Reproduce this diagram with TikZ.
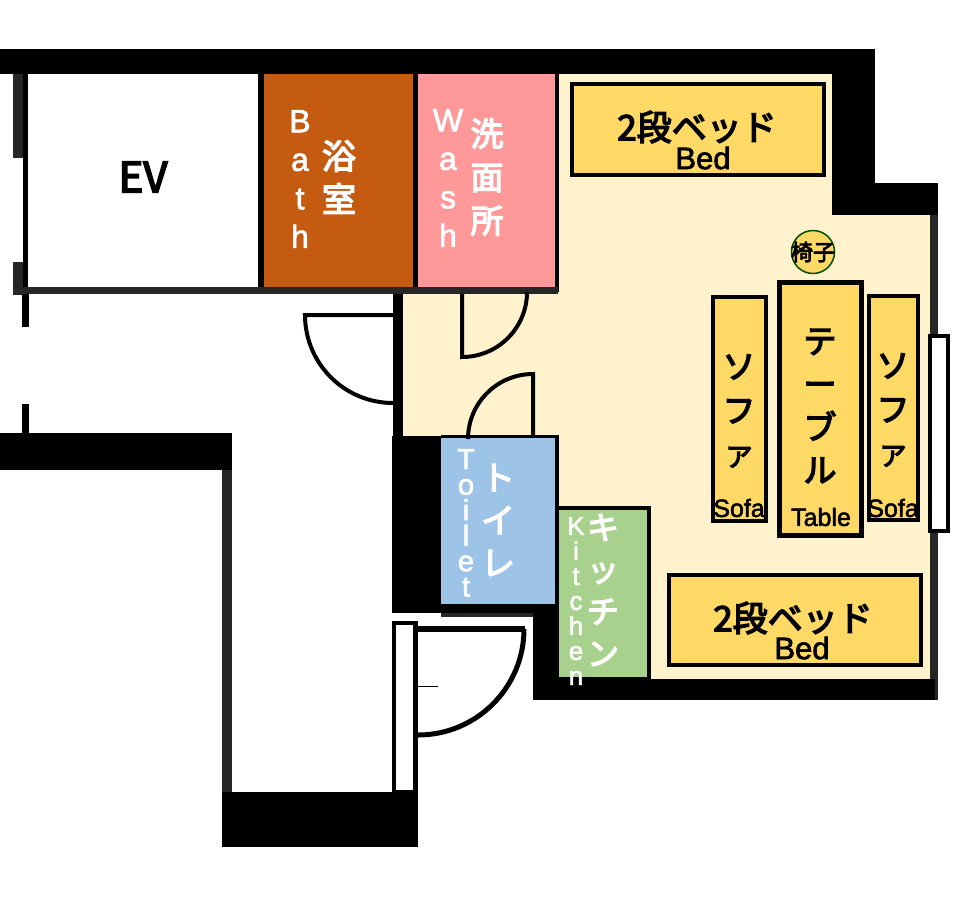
\documentclass[tikz,border=0pt]{standalone}
\usepackage{fontspec}
\setmainfont{Liberation Sans}
\newfontfamily\jp[FakeBold=4]{Noto Sans CJK JP}
\newfontfamily\lat[FakeBold=2]{Liberation Sans}
\definecolor{cream}{HTML}{FFF2CC}
\definecolor{bathc}{HTML}{C55A11}
\definecolor{washc}{HTML}{FF9999}
\definecolor{yel}{HTML}{FFD966}
\definecolor{toic}{HTML}{9DC3E6}
\definecolor{kitc}{HTML}{A9D18E}
\newcommand{\fsz}[2]{\lat\fontsize{#1}{#2}\selectfont}
\newcommand{\jpb}[2]{\jp\fontsize{#1}{#2}\selectfont}
\newcommand{\smallA}{{\fontsize{27}{44}\selectfont ア}}
\tikzset{
  wall/.style={fill=black,draw=none},
  rough/.style={fill=black!85,draw=none},
  doorline/.style={draw=black,line width=4pt,line cap=butt},
  furn/.style={draw=black,fill=yel,line width=4.5pt},
  lbl/.style={inner sep=0pt,outer sep=0pt,align=center,text=white},
  lblk/.style={inner sep=0pt,outer sep=0pt,align=center,text=black},
}
\begin{document}
\begin{tikzpicture}[x=1pt,y=-1pt]
\useasboundingbox (0,0) rectangle (968,900);
\fill[white] (0,0) rectangle (968,900);
% cream floor
\fill[cream] (558,74) -- (832,74) -- (832,215) -- (930,215) -- (930,679) -- (650,679) -- (650,507) -- (558,507) -- (558,437) -- (403,437) -- (403,294) -- (558,294) -- cycle;
% rooms
\fill[bathc] (264,74) rectangle (413,287);
\fill[washc] (418,74) rectangle (555,287);
\fill[toic] (441,438) rectangle (555,604);
\fill[kitc] (559,510) rectangle (647,677);
% top and right walls
\fill[wall] (0,49) rectangle (875,74);
\fill[wall] (832,49) rectangle (875,215);
\fill[wall] (832,183) rectangle (938,215);
\fill[rough] (930,215) rectangle (938,700);
\fill[wall] (533,679) rectangle (935,700);
% EV and partition walls
\fill[wall] (23,74) rectangle (28,290);
\fill[rough] (13,74) rectangle (23,158);
\fill[rough] (13,262) rectangle (23,295);
\fill[wall] (258,74) rectangle (264,287);
\fill[wall] (413,74) rectangle (418,287);
\fill[wall] (555,74) rectangle (559,292);
\fill[rough] (13,287) rectangle (558,294);
\fill[wall] (22,294) rectangle (29,327);
\fill[wall] (22,404) rectangle (29,434);
% corridor walls
\fill[wall] (393,294) rectangle (403,437);
\fill[wall] (0,433) rectangle (232,470);
\fill[rough] (222,470) rectangle (232,847);
\fill[wall] (222,792) rectangle (418,847);
% toilet and kitchen walls
\fill[wall] (392,436) rectangle (441,613);
\fill[wall] (441,435) rectangle (559,438);
\fill[wall] (555,436) rectangle (559,617);
\fill[wall] (441,604) rectangle (559,613);
\fill[rough] (441,613) rectangle (533,617);
\fill[wall] (533,604) rectangle (559,700);
\fill[wall] (555,506) rectangle (651,510);
\fill[wall] (647,506) rectangle (651,680);
\fill[wall] (533,677) rectangle (651,700);
% windows and door frame
\draw[black,fill=white,line width=4pt] (930,336) rectangle (948,531);
\draw[black,fill=white,line width=4pt] (394,623) rectangle (415,792);
\fill[wall] (413,621) rectangle (418,792);
% doors
\draw[doorline] (393,315) -- (305,315) arc[start angle=180,end angle=90,x radius=88,y radius=88];
\draw[doorline] (462,294) -- (462,357) arc[start angle=90,end angle=0,x radius=65,y radius=65];
\draw[doorline] (533,437) -- (533,374) arc[start angle=-90,end angle=-180,x radius=65,y radius=65];
\draw[black,line width=6pt] (418,629) -- (525,629);
\draw[doorline,line width=5pt] (524,629) arc[start angle=0,end angle=90,x radius=106,y radius=106];
\draw[black,line width=1pt] (418,686) -- (438,686);
% furniture
\draw[furn] (572,84) rectangle (824,175);
\draw[furn] (669,575) rectangle (921,665);
\draw[furn] (713,297) rectangle (766,521);
\draw[furn,line width=5pt] (779.5,282.5) rectangle (861.5,535.5);
\draw[furn] (869,296) rectangle (918,520);
\draw[fill=yel,draw=black!70!green,line width=1.5pt] (813,252) circle[radius=21.5];
% labels
\node[lblk,font=\jpb{42}{42}] (ev) at (143,177) {EV};
\node[lbl,font=\fsz{32}{38.5}] (bathen) at (300,179) {B\\a\\t\\h};
\node[lbl,font=\jpb{34}{43}] (bathjp) at (339,177) {浴\\室};
\node[lbl,font=\fsz{32}{38.5}] (washen) at (448,178) {W\\a\\s\\h};
\node[lbl,font=\jpb{33}{43.5}] (washjp) at (487,177) {洗\\面\\所};
\node[lblk,font=\jpb{35}{35}] (bed1jp) at (697,127) {2段ベッド};
\node[lblk,font=\fsz{31}{31}] (bed1en) at (703,158) {Bed};
\node[lblk,font=\jpb{35}{35}] (bed2jp) at (793,618) {2段ベッド};
\node[lblk,font=\fsz{31}{31}] (bed2en) at (802,648) {Bed};
\node[lblk,font=\jpb{22}{22}] (chair) at (813,252) {椅子};
\node[lblk,font=\jpb{33}{43}] (tablejp) at (820,406) {テ\\ー\\ブ\\ル};
\node[lblk,font=\fsz{25}{25}] (tableen) at (821,517) {Table};
\node[lblk,font=\jpb{33}{44}] (sofaljp) at (739,411) {ソ\\フ\\\smallA};
\node[lblk,font=\fsz{25}{25}] (sofalen) at (739,508) {Sofa};
\node[lblk,font=\jpb{33}{44}] (sofarjp) at (893,410) {ソ\\フ\\\smallA};
\node[lblk,font=\fsz{25}{25}] (sofaren) at (893,508) {Sofa};
\node[lbl,font=\fsz{29}{25.5}] (toilen) at (466,523) {T\\o\\i\\l\\e\\t};
\node[lbl,font=\jpb{34}{42.5}] (toiljp) at (498,520) {ト\\イ\\レ};
\node[lbl,font=\fsz{26}{25}] (kiten) at (576,601) {K\\i\\t\\c\\h\\e\\n};
\node[lbl,font=\jpb{32}{42}] (kitjp) at (603,590) {キ\\ッ\\チ\\ン};
\end{tikzpicture}
\end{document}
